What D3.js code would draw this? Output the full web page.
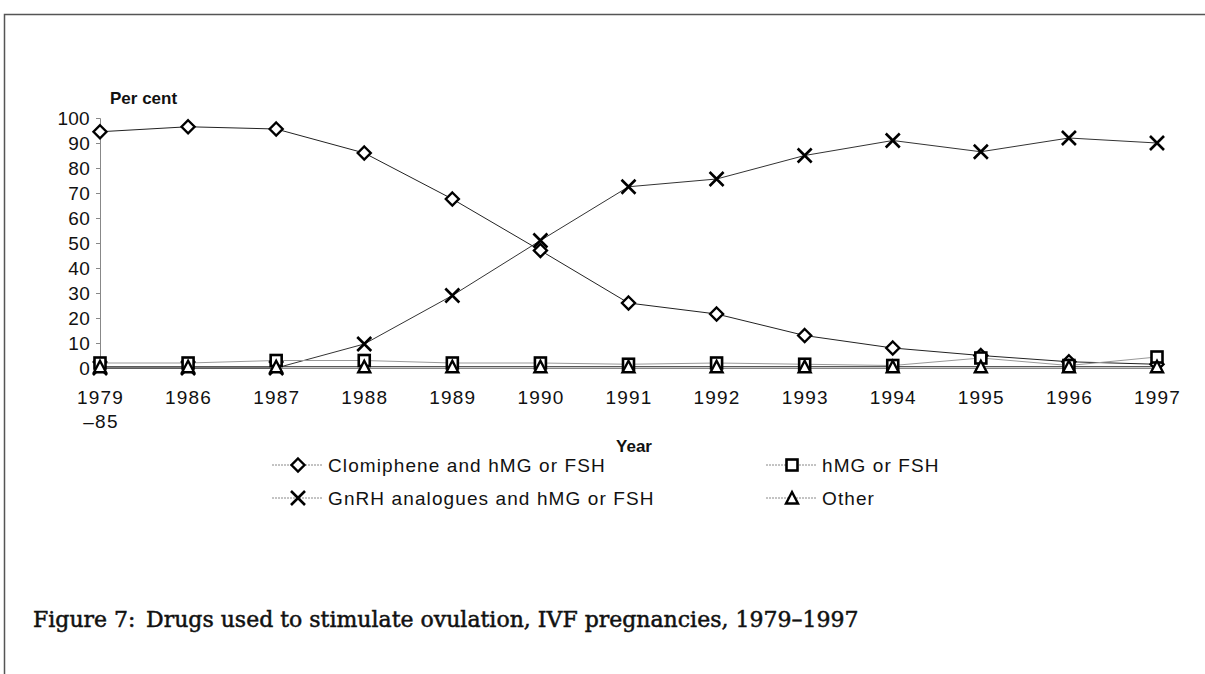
<!DOCTYPE html>
<html>
<head>
<meta charset="utf-8">
<script src="https://cdn.jsdelivr.net/npm/d3@7"></script>
<style>
  body { margin: 0; background: #fff; }
  svg { display: block; }
</style>
</head>
<body>
<div id="chart"></div>
<script>
(function() {

    var width = 1205,
        height = 674;

    // data
    var years = ["1979", "1986", "1987", "1988", "1989", "1990", "1991", "1992", "1993", "1994", "1995", "1996", "1997"];
    var clomiphene = [94.5, 96.5, 95.6, 86, 67.6, 47, 26, 21.6, 13, 8, 5, 2.5, 1.5];
    var gnrh = [0, 0, 0, 9.6, 29, 51, 72.5, 75.6, 85, 91, 86.5, 92, 90];
    var hmg = [2, 2, 3, 3, 2, 2, 1.5, 2, 1.5, 1, 4, 1, 4.4];
    var other = [0.5, 0.5, 0.5, 0.5, 0.5, 0.5, 0.5, 0.5, 0.5, 0.5, 0.5, 0.5, 0.5];
    var yTicks = [0, 10, 20, 30, 40, 50, 60, 70, 80, 90, 100];

    var series = [
        { name: "Clomiphene and hMG or FSH", values: clomiphene, marker: "diamond", line: "#222" },
        { name: "GnRH analogues and hMG or FSH", values: gnrh, marker: "cross", line: "#333" },
        { name: "hMG or FSH", values: hmg, marker: "square", line: "#999" },
        { name: "Other", values: other, marker: "triangle", line: "#222" }
    ];

    var sans = "Liberation Sans, Arial, sans-serif"

    var svg = d3.select("#chart")
        .append("svg")
        .attr("width", width)
        .attr("height", height)

    // page frame
    svg.append("path")
        .attr("d", "M4.5,674 L4.5,14.5 L1205,14.5")
        .attr("fill", "none")
        .attr("stroke", "#555")
        .attr("stroke-width", 1.5)

    var x = d3.scalePoint().domain(years).range([100, 1157])
    var y = d3.scaleLinear().domain([0, 100]).range([368, 118])

    // y axis
    var yAxis = svg.append("g")
        .attr("transform", "translate(100,0)")
        .call(d3.axisLeft(y).tickValues(yTicks).tickSize(4).tickPadding(6))

    yAxis.select(".domain").attr("stroke", "#888")
    yAxis.selectAll(".tick line").attr("stroke", "#888")
    yAxis.selectAll(".tick text")
        .attr("font-family", sans)
        .attr("font-size", 19)
        .attr("letter-spacing", 0.3)
        .attr("fill", "#111")

    // x axis
    var xAxis = svg.append("g")
        .attr("transform", "translate(0,368)")
        .call(d3.axisBottom(x).tickSize(0).tickPadding(23))

    xAxis.select(".domain").attr("stroke", "#888")
    xAxis.selectAll(".tick text")
        .attr("font-family", sans)
        .attr("font-size", 19)
        .attr("letter-spacing", 1.2)
        .attr("fill", "#111")

    svg.append("text")
        .attr("x", x("1979") + 1)
        .attr("y", 428)
        .attr("text-anchor", "middle")
        .attr("font-family", sans)
        .attr("font-size", 19)
        .attr("letter-spacing", 1.2)
        .attr("fill", "#111")
        .text("\u201385")

    svg.append("text")
        .attr("x", 110)
        .attr("y", 104)
        .attr("font-family", sans)
        .attr("font-size", 17)
        .attr("font-weight", "bold")
        .attr("fill", "#111")
        .text("Per cent")

    svg.append("text")
        .attr("x", 634)
        .attr("y", 452)
        .attr("text-anchor", "middle")
        .attr("font-family", sans)
        .attr("font-size", 17)
        .attr("font-weight", "bold")
        .attr("fill", "#111")
        .text("Year")

    function drawMarker(g, type, cx, cy) {
        if (type === "diamond") {
            g.append("path")
                .attr("d", "M" + cx + "," + (cy - 6.5) + " L" + (cx + 6.5) + "," + cy + " L" + cx + "," + (cy + 6.5) + " L" + (cx - 6.5) + "," + cy + " Z")
                .attr("fill", "#fff").attr("stroke", "#000").attr("stroke-width", 2.4)
        } else if (type === "cross") {
            g.append("path")
                .attr("d", "M" + (cx - 7) + "," + (cy - 7) + " L" + (cx + 7) + "," + (cy + 7) + " M" + (cx + 7) + "," + (cy - 7) + " L" + (cx - 7) + "," + (cy + 7))
                .attr("fill", "none").attr("stroke", "#000").attr("stroke-width", 2.6)
        } else if (type === "square") {
            g.append("rect")
                .attr("x", cx - 5.5).attr("y", cy - 5.5)
                .attr("width", 11).attr("height", 11)
                .attr("fill", "#fff").attr("stroke", "#000").attr("stroke-width", 2.6)
        } else {
            g.append("path")
                .attr("d", "M" + cx + "," + (cy - 6) + " L" + (cx + 6) + "," + (cy + 5.5) + " L" + (cx - 6) + "," + (cy + 5.5) + " Z")
                .attr("fill", "#fff").attr("stroke", "#000").attr("stroke-width", 2.4)
        }
    }

    var line = d3.line()
        .x(function(d, i) { return x(years[i]) })
        .y(function(d) { return y(d) })

    // lines first, markers on top
    series.forEach(function(s) {
        svg.append("path")
            .attr("d", line(s.values))
            .attr("fill", "none")
            .attr("stroke", s.line)
            .attr("stroke-width", 1)
    })

    var order = [1, 0, 2, 3]
    order.forEach(function(k) {
        var s = series[k]
        var g = svg.append("g")
        s.values.forEach(function(v, i) {
            drawMarker(g, s.marker, x(years[i]), y(v))
        })
    })

    // legend
    var legendPos = [
        { x: 298, y: 465 },
        { x: 298, y: 498 },
        { x: 792, y: 465 },
        { x: 792, y: 498 }
    ]

    series.forEach(function(s, i) {
        var p = legendPos[i]
        var g = svg.append("g")
        g.append("line")
            .attr("x1", p.x - 26).attr("x2", p.x + 24)
            .attr("y1", p.y).attr("y2", p.y)
            .attr("stroke", "#888")
            .attr("stroke-width", 1)
            .attr("stroke-dasharray", "2,1")
        drawMarker(g, s.marker, p.x, p.y)
        g.append("text")
            .attr("x", p.x + 30)
            .attr("y", p.y + 7)
            .attr("font-family", sans)
            .attr("font-size", 19)
            .attr("letter-spacing", 1.1)
            .attr("fill", "#111")
            .text(s.name)
    })

    // caption
    var cap = svg.append("text")
        .attr("y", 627)
        .attr("font-family", "DejaVu Serif, serif")
        .attr("font-size", 22)
        .attr("fill", "#111")
        .attr("stroke", "#111")
        .attr("stroke-width", 0.5)
    cap.append("tspan").attr("x", 33).text("Figure 7:")
    cap.append("tspan").attr("x", 146).text("Drugs used to stimulate ovulation, IVF pregnancies, 1979\u20131997")

})();
</script>
</body>
</html>
